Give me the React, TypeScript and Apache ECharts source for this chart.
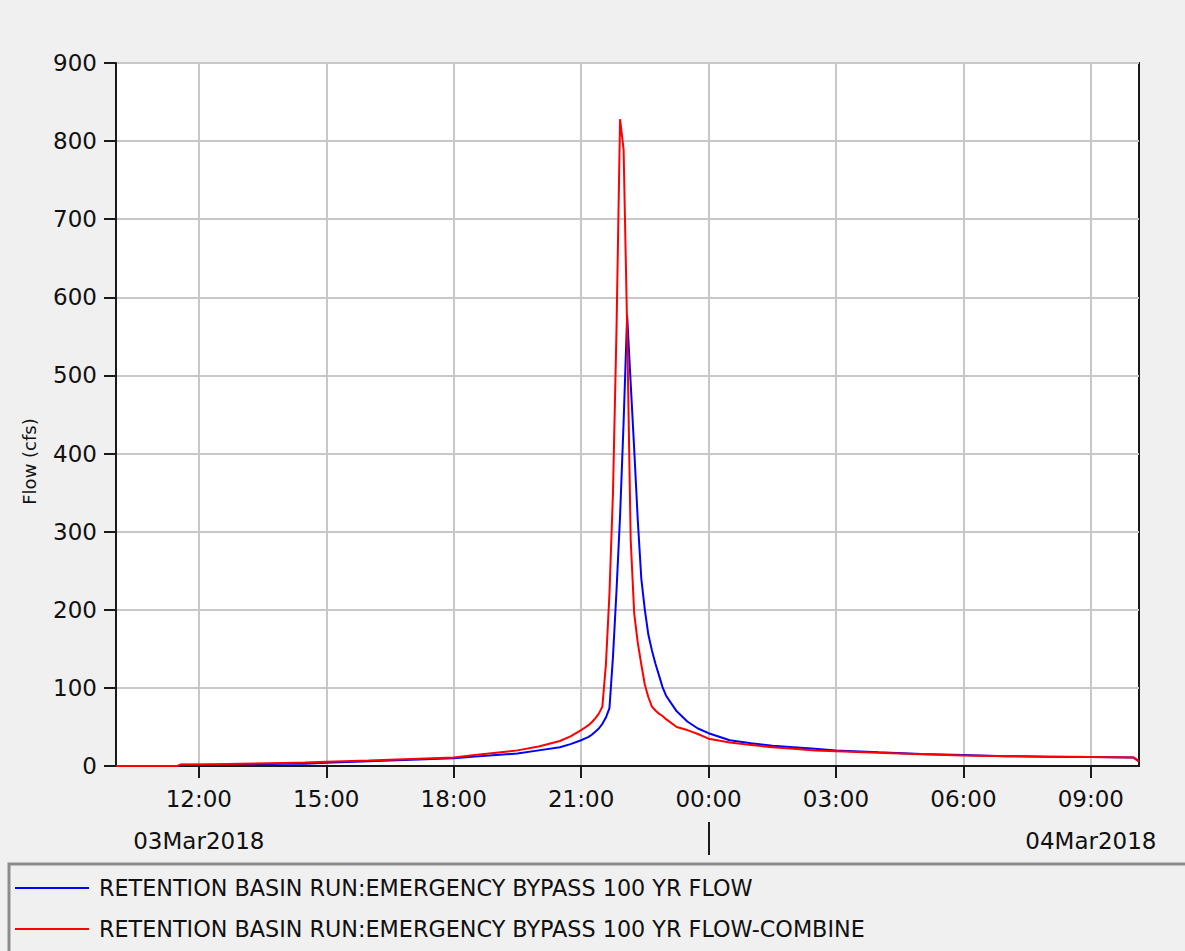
import React, { useEffect, useRef } from "react";
import * as echarts from "echarts";

// ---- data ----
const startTime = "2018-03-03T10:03:00";
const endTime = "2018-03-04T10:08:00";

const times = [
  "2018-03-03T10:03:00", "2018-03-03T11:30:00", "2018-03-03T11:35:00", "2018-03-03T12:00:00",
  "2018-03-03T13:00:00", "2018-03-03T14:00:00", "2018-03-03T14:30:00", "2018-03-03T15:00:00",
  "2018-03-03T16:00:00", "2018-03-03T17:00:00", "2018-03-03T18:00:00", "2018-03-03T18:30:00",
  "2018-03-03T19:00:00", "2018-03-03T19:30:00", "2018-03-03T20:00:00", "2018-03-03T20:30:00",
  "2018-03-03T20:45:00", "2018-03-03T21:00:00", "2018-03-03T21:05:00", "2018-03-03T21:10:00",
  "2018-03-03T21:15:00", "2018-03-03T21:20:00", "2018-03-03T21:25:00", "2018-03-03T21:30:00",
  "2018-03-03T21:35:00", "2018-03-03T21:40:00", "2018-03-03T21:45:00", "2018-03-03T21:50:00",
  "2018-03-03T21:55:00", "2018-03-03T22:00:00", "2018-03-03T22:05:00", "2018-03-03T22:10:00",
  "2018-03-03T22:15:00", "2018-03-03T22:20:00", "2018-03-03T22:25:00", "2018-03-03T22:30:00",
  "2018-03-03T22:35:00", "2018-03-03T22:40:00", "2018-03-03T22:45:00", "2018-03-03T22:50:00",
  "2018-03-03T22:55:00", "2018-03-03T23:00:00", "2018-03-03T23:15:00", "2018-03-03T23:30:00",
  "2018-03-03T23:45:00", "2018-03-04T00:00:00", "2018-03-04T00:30:00", "2018-03-04T01:00:00",
  "2018-03-04T01:30:00", "2018-03-04T02:00:00", "2018-03-04T02:30:00", "2018-03-04T03:00:00",
  "2018-03-04T04:00:00", "2018-03-04T05:00:00", "2018-03-04T06:00:00", "2018-03-04T07:00:00",
  "2018-03-04T08:00:00", "2018-03-04T09:00:00", "2018-03-04T10:00:00", "2018-03-04T10:08:00",
];

const blueFlow = [
  0, 0, 1.5, 1.5,
  2, 3, 3, 4,
  6, 8, 10, 12,
  14, 16, 20, 24,
  28, 33, 35, 37,
  40, 44, 48, 54,
  62, 74, 140, 225,
  320, 440, 577, 490,
  405, 315, 240, 200,
  168, 148, 131, 116,
  101, 90, 70, 57,
  48, 42, 33, 29,
  26, 24, 22, 20,
  17.5, 15.5, 14, 12.5,
  12, 11.5, 11, 6,
];

const redFlow = [
  0, 0, 2, 2,
  3, 4, 4.5, 5.5,
  7, 9, 11, 14,
  17, 20, 25, 32,
  38, 46, 49, 52,
  56, 61, 67, 76,
  130, 220, 350, 560,
  828, 789, 560, 290,
  195, 158, 130, 104,
  88, 76, 71, 67,
  64, 60, 50, 46,
  41, 35, 30, 27,
  24, 22, 20, 19,
  17, 15, 13.5, 12.5,
  12, 11.5, 11, 6,
];

const seriesNames = [
  "RETENTION BASIN RUN:EMERGENCY BYPASS 100 YR FLOW",
  "RETENTION BASIN RUN:EMERGENCY BYPASS 100 YR FLOW-COMBINE",
];

const hourTicks = [
  "2018-03-03T12:00:00", "2018-03-03T15:00:00", "2018-03-03T18:00:00", "2018-03-03T21:00:00",
  "2018-03-04T00:00:00", "2018-03-04T03:00:00", "2018-03-04T06:00:00", "2018-03-04T09:00:00",
];
const hourLabels = ["12:00", "15:00", "18:00", "21:00", "00:00", "03:00", "06:00", "09:00"];
const dayBreakTicks = ["2018-03-04T00:00:00"];
const dateLabelTimes = ["2018-03-03T12:00:00", "2018-03-04T09:00:00"];
const dateLabels = ["03Mar2018", "04Mar2018"];

const yMin = 0;
const yMax = 900;
const yStep = 100;

// x is expressed in hours since the start of 03Mar2018
const BASE = new Date("2018-03-03T00:00:00").getTime();
const hrs = (s: string) => (new Date(s).getTime() - BASE) / 3600000;
const key = (h: number) => Math.round(h * 60);

const FONT = "'DejaVu Sans', 'Liberation Sans', Arial, sans-serif";
const TEXT = "#111111";

export default function App() {
  const ref = useRef<HTMLDivElement | null>(null);

  useEffect(() => {
    if (!ref.current) return;
    document.body.style.margin = "0";
    const chart = echarts.init(ref.current, undefined, { renderer: "svg" });

    const hourMap: Record<number, string> = {};
    hourTicks.forEach((t, i) => (hourMap[key(hrs(t))] = hourLabels[i]));
    const dateMap: Record<number, string> = {};
    dateLabelTimes.forEach((t, i) => (dateMap[key(hrs(t))] = dateLabels[i]));

    const option: any = {
      animation: false,
      backgroundColor: "#f0f0f0",
      textStyle: { fontFamily: FONT },
      grid: {
        left: 116,
        top: 63,
        right: 46,
        bottom: 185,
        show: true,
        backgroundColor: "#ffffff",
        borderColor: "#1a1a1a",
        borderWidth: 2,
      },
      graphic: [
        {
          type: "rect",
          z: -1,
          shape: { x: 9, y: 864, width: 1200, height: 120 },
          style: { fill: "none", stroke: "#8c8c8c", lineWidth: 3 },
        },
      ],
      legend: {
        orient: "vertical",
        left: 14,
        top: 877,
        itemWidth: 74,
        itemHeight: 22,
        itemGap: 19,
        padding: 0,
        itemStyle: { opacity: 0 },
        textStyle: { fontSize: 22.3, color: TEXT, fontFamily: FONT, padding: [0, 0, 0, 5] },
        data: seriesNames,
      },
      xAxis: [
        {
          type: "value",
          min: hrs(startTime),
          max: hrs(endTime),
          axisLine: { show: true, lineStyle: { color: "#1a1a1a", width: 2 } },
          axisTick: {
            show: true,
            inside: false,
            length: 12,
            customValues: hourTicks.map(hrs),
            lineStyle: { color: "#1a1a1a", width: 2 },
          },
          axisLabel: {
            customValues: hourTicks.map(hrs),
            formatter: (v: number) => hourMap[key(v)] ?? "",
            fontSize: 23,
            color: TEXT,
            fontFamily: FONT,
            margin: 21,
          },
          splitLine: { show: true, lineStyle: { color: "#c8c8c8", width: 2 } },
        },
        {
          type: "value",
          min: hrs(startTime),
          max: hrs(endTime),
          position: "bottom",
          offset: 56,
          axisLine: { show: false },
          axisTick: {
            show: true,
            inside: false,
            length: 33,
            customValues: dayBreakTicks.map(hrs),
            lineStyle: { color: "#1a1a1a", width: 2 },
          },
          axisLabel: {
            customValues: dateLabelTimes.map(hrs),
            formatter: (v: number) => dateMap[key(v)] ?? "",
            fontSize: 23,
            color: TEXT,
            fontFamily: FONT,
            margin: 7,
          },
          splitLine: { show: false },
        },
      ],
      yAxis: {
        type: "value",
        min: yMin,
        max: yMax,
        interval: yStep,
        name: "Flow (cfs)",
        nameLocation: "middle",
        nameGap: 78,
        nameTextStyle: { fontSize: 18, color: TEXT, fontFamily: FONT, padding: [0, 94, 0, 0] },
        axisLine: { show: true, lineStyle: { color: "#1a1a1a", width: 2 } },
        axisTick: { show: true, inside: false, length: 12, lineStyle: { color: "#1a1a1a", width: 2 } },
        axisLabel: { fontSize: 23, color: TEXT, fontFamily: FONT, margin: 19 },
        splitLine: { show: true, lineStyle: { color: "#c8c8c8", width: 2 } },
      },
      series: [
        {
          name: seriesNames[0],
          type: "line",
          xAxisIndex: 0,
          symbol: "none",
          data: times.map((t, i) => [hrs(t), blueFlow[i]]),
          lineStyle: { color: "#0000ff", width: 2 },
          itemStyle: { color: "#0000ff" },
        },
        {
          name: seriesNames[1],
          type: "line",
          xAxisIndex: 0,
          symbol: "none",
          data: times.map((t, i) => [hrs(t), redFlow[i]]),
          lineStyle: { color: "#ff0000", width: 2 },
          itemStyle: { color: "#ff0000" },
        },
      ],
    };

    chart.setOption(option);
    return () => chart.dispose();
  }, []);

  return (
    <div
      ref={ref}
      style={{ position: "fixed", left: 0, top: 0, width: 1185, height: 951 }}
    />
  );
}
